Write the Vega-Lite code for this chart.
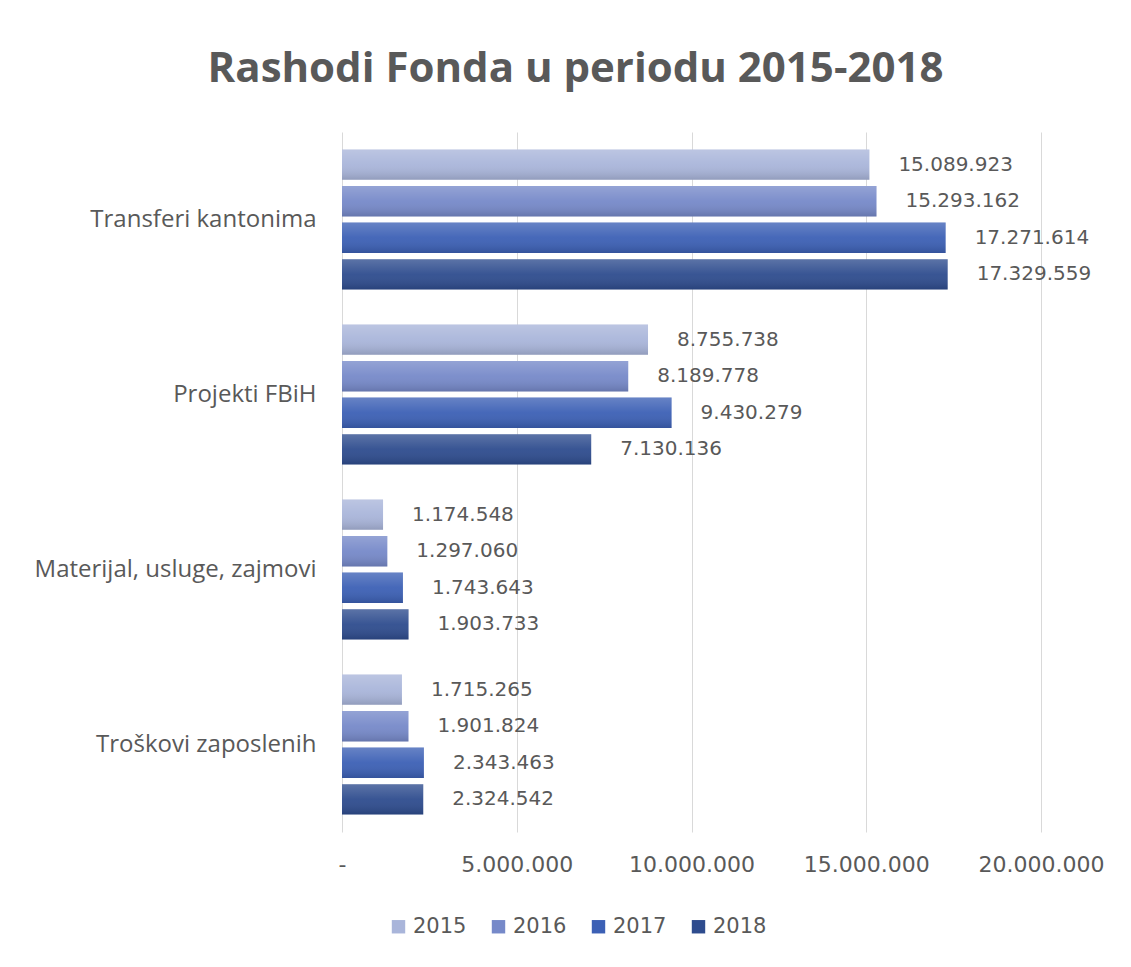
{
  "$schema": "https://vega.github.io/schema/vega-lite/v6.json",
  "width": 699,
  "height": 700,
  "autosize": {"type": "none"},
  "padding": {"left": 342, "top": 132, "right": 90, "bottom": 135},
  "background": "white",
  "config": {
    "locale": {"number": {"decimal": ",", "thousands": ".", "grouping": [3], "currency": ["", ""]}},
    "view": {"stroke": null},
    "font": "Open Sans"
  },
  "title": {
    "text": "Rashodi Fonda u periodu 2015-2018",
    "font": "Open Sans",
    "fontSize": 42,
    "fontWeight": "bold",
    "color": "#595959",
    "anchor": "middle",
    "frame": "group",
    "dx": -116,
    "baseline": "alphabetic",
    "offset": 8
  },
  "data": {
    "values": [
      {"kategorija": "Transferi kantonima", "godina": "2015", "iznos": 15089923},
      {"kategorija": "Transferi kantonima", "godina": "2016", "iznos": 15293162},
      {"kategorija": "Transferi kantonima", "godina": "2017", "iznos": 17271614},
      {"kategorija": "Transferi kantonima", "godina": "2018", "iznos": 17329559},
      {"kategorija": "Projekti FBiH", "godina": "2015", "iznos": 8755738},
      {"kategorija": "Projekti FBiH", "godina": "2016", "iznos": 8189778},
      {"kategorija": "Projekti FBiH", "godina": "2017", "iznos": 9430279},
      {"kategorija": "Projekti FBiH", "godina": "2018", "iznos": 7130136},
      {"kategorija": "Materijal, usluge, zajmovi", "godina": "2015", "iznos": 1174548},
      {"kategorija": "Materijal, usluge, zajmovi", "godina": "2016", "iznos": 1297060},
      {"kategorija": "Materijal, usluge, zajmovi", "godina": "2017", "iznos": 1743643},
      {"kategorija": "Materijal, usluge, zajmovi", "godina": "2018", "iznos": 1903733},
      {"kategorija": "Troškovi zaposlenih", "godina": "2015", "iznos": 1715265},
      {"kategorija": "Troškovi zaposlenih", "godina": "2016", "iznos": 1901824},
      {"kategorija": "Troškovi zaposlenih", "godina": "2017", "iznos": 2343463},
      {"kategorija": "Troškovi zaposlenih", "godina": "2018", "iznos": 2324542}
    ]
  },
  "encoding": {
    "y": {
      "field": "kategorija",
      "type": "nominal",
      "sort": ["Transferi kantonima", "Projekti FBiH", "Materijal, usluge, zajmovi", "Troškovi zaposlenih"],
      "scale": {"paddingInner": 0.2, "paddingOuter": 0.1},
      "axis": {
        "title": null,
        "domain": false,
        "ticks": false,
        "labelPadding": 26,
        "labelFontSize": 24,
        "labelLimit": 0,
        "labelColor": "#595959",
        "labelFont": "Open Sans"
      }
    },
    "yOffset": {
      "field": "godina",
      "type": "nominal",
      "sort": ["2015", "2016", "2017", "2018"],
      "scale": {"paddingInner": 0.17, "paddingOuter": 0}
    },
    "x": {
      "field": "iznos",
      "type": "quantitative",
      "scale": {"domain": [0, 20000000], "nice": false},
      "axis": {
        "title": null,
        "domain": false,
        "ticks": false,
        "values": [0, 5000000, 10000000, 15000000, 20000000],
        "labelExpr": "datum.value == 0 ? '-' : format(datum.value, ',d')",
        "labelFlush": false,
        "labelPadding": 22,
        "labelFontSize": 22,
        "labelColor": "#595959",
        "labelFont": "DejaVu Sans",
        "gridColor": "#d9d9d9",
        "gridWidth": 1
      }
    }
  },
  "layer": [
    {
      "mark": {"type": "bar"},
      "encoding": {
        "color": {
          "field": "godina",
          "type": "nominal",
          "scale": {
            "domain": ["2015", "2016", "2017", "2018"],
            "range": ["#a9b5da", "#7689c9", "#3c60b5", "#2e4c8e"]
          },
          "legend": {
            "title": null,
            "orient": "none",
            "direction": "horizontal",
            "legendX": 46,
            "legendY": 784,
            "symbolType": "square",
            "symbolSize": 180,
            "symbolStrokeWidth": 0,
            "labelFontSize": 21,
            "labelColor": "#595959",
            "labelFont": "DejaVu Sans",
            "labelOffset": 4,
            "columnPadding": 21
          }
        }
      }
    },
    {
      "mark": {
        "type": "bar",
        "fill": {
          "gradient": "linear",
          "x1": 0, "y1": 0, "x2": 0, "y2": 1,
          "stops": [
            {"offset": 0, "color": "rgba(255,255,255,0.22)"},
            {"offset": 0.5, "color": "rgba(255,255,255,0.05)"},
            {"offset": 1, "color": "rgba(0,0,0,0.14)"}
          ]
        }
      },
      "encoding": {}
    },
    {
      "mark": {"type": "text", "align": "left", "baseline": "middle", "dx": 29, "fontSize": 20, "color": "#595959", "font": "DejaVu Sans"},
      "encoding": {
        "text": {"field": "iznos", "type": "quantitative", "format": ",d"}
      }
    }
  ]
}
